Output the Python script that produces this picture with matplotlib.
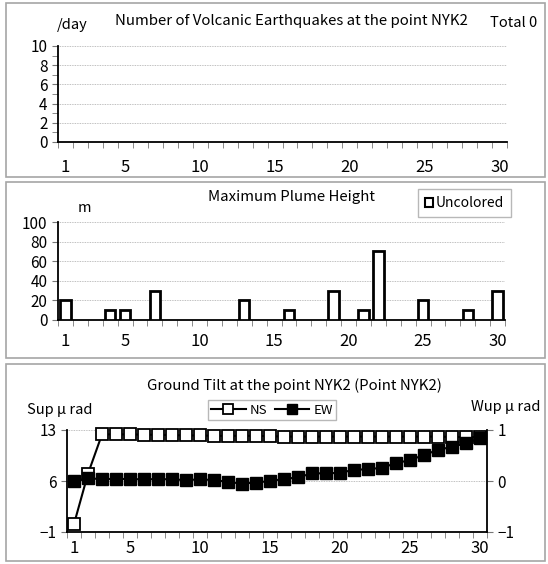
import matplotlib
matplotlib.use('Agg')
import matplotlib.pyplot as plt
from matplotlib.patches import Rectangle
from matplotlib.ticker import FixedLocator, MultipleLocator

plt.rcParams['font.family'] = ['Noto Sans CJK JP', 'DejaVu Sans']

days = list(range(1, 31))
x_labels = [1, 5, 10, 15, 20, 25, 30]

# volcanic earthquakes per day (none this month)
quakes = [0] * 30

# maximum plume height (m)
plume = [20, 0, 0, 10, 10, 0, 30, 0, 0, 0, 0, 0, 20, 0, 0,
         10, 0, 0, 30, 0, 10, 70, 0, 0, 20, 0, 0, 10, 0, 30]

# ground tilt (micro rad)
tilt_ns = [0.1, 7.0, 12.4, 12.4, 12.4, 12.35, 12.35, 12.3, 12.25, 12.25, 12.2, 12.2, 12.2, 12.2, 12.15,
           12.1, 12.1, 12.1, 12.1, 12.1, 12.1, 12.1, 12.1, 12.1, 12.1, 12.1, 12.1, 12.05, 12.05, 12.0]
tilt_ew = [0.0, 0.05, 0.04, 0.04, 0.04, 0.03, 0.04, 0.03, 0.02, 0.03, 0.02, -0.02, -0.05, -0.03, 0.0,
           0.04, 0.07, 0.15, 0.15, 0.16, 0.22, 0.23, 0.26, 0.35, 0.41, 0.51, 0.61, 0.67, 0.74, 0.84]

W, H = 548, 564
fig = plt.figure(figsize=(W / 100, H / 100), dpi=100)


def px_rect(x0, y0, x1, y1):
    return [x0 / W, 1 - y1 / H, (x1 - x0) / W, (y1 - y0) / H]


def px(x, y):
    return x / W, 1 - y / H


# panel frames
for (y0, y1) in [(3, 177), (182, 358), (364, 561)]:
    fig.patches.append(Rectangle((6 / W, 1 - y1 / H), 539 / W, (y1 - y0) / H,
                                 transform=fig.transFigure, fill=False,
                                 edgecolor='#a6a6a6', linewidth=1.2))


def style_x(ax, pad):
    ax.set_xlim(0.5, 30.5)
    ax.xaxis.set_major_locator(FixedLocator(x_labels))
    ax.xaxis.set_minor_locator(FixedLocator([d + 0.5 for d in range(0, 31)]))
    ax.tick_params(axis='x', which='major', length=0, labelsize=12, pad=pad)
    ax.tick_params(axis='x', which='minor', length=4, direction='out', color='#777777')
    ax.spines['top'].set_visible(False)
    ax.spines['bottom'].set_color('black')
    ax.spines['left'].set_color('black')
    ax.spines['bottom'].set_linewidth(1.3)
    ax.spines['left'].set_linewidth(1.3)


# --- panel 1 ---
ax1 = fig.add_axes(px_rect(58, 46, 507, 142))
ax1.bar(days, quakes, width=0.7, color='white', edgecolor='black', linewidth=0)
style_x(ax1, 12)
ax1.spines['right'].set_visible(False)
ax1.set_ylim(0, 10)
ax1.yaxis.set_major_locator(MultipleLocator(2))
ax1.yaxis.set_minor_locator(MultipleLocator(1))
ax1.tick_params(axis='y', which='both', length=4, direction='out', color='#777777', labelsize=11)
ax1.grid(axis='y', color='#aaaaaa', linewidth=0.6, linestyle=(0, (1, 1)))
ax1.set_axisbelow(True)
fig.text(*px(291, 21), 'Number of Volcanic Earthquakes at the point NYK2', ha='center', va='center', fontsize=10.8)
fig.text(*px(72, 25), '/day', ha='center', va='center', fontsize=10.5)
fig.text(*px(514, 23), 'Total 0', ha='center', va='center', fontsize=10.5)

# --- panel 2 ---
ax2 = fig.add_axes(px_rect(58, 222, 505, 320))
ax2.bar([d for d, v in zip(days, plume) if v > 0], [v for v in plume if v > 0],
        width=0.7, color='white', edgecolor='black', linewidth=2, label='Uncolored', zorder=3)
style_x(ax2, 9)
ax2.spines['right'].set_visible(False)
ax2.set_ylim(0, 100)
ax2.yaxis.set_major_locator(MultipleLocator(20))
ax2.tick_params(axis='y', which='both', length=4, direction='out', color='#777777', labelsize=11)
ax2.grid(axis='y', color='#aaaaaa', linewidth=0.6, linestyle=(0, (1, 1)))
ax2.set_axisbelow(True)
fig.text(*px(292, 197), 'Maximum Plume Height', ha='center', va='center', fontsize=10.8)
fig.text(*px(84, 208), 'm', ha='center', va='center', fontsize=10.5)
leg2 = ax2.legend(loc='center', bbox_to_anchor=((416 + 513) / 2 / W, 1 - 203 / H),
                  bbox_transform=fig.transFigure, fontsize=10, frameon=True, fancybox=False,
                  handlelength=0.6, handleheight=0.6, handletextpad=0.2, borderpad=0.5,
                  borderaxespad=0)
leg2.get_frame().set_edgecolor('#a6a6a6')
leg2.get_frame().set_linewidth(1.0)
for p in leg2.get_patches():
    p.set_linewidth(1.5)

# --- panel 3 ---
ax3 = fig.add_axes(px_rect(67, 430, 487, 532))
ax3r = ax3.twinx()
l1, = ax3.plot(days, tilt_ns, color='black', linewidth=1.5, marker='s', markersize=8.8,
               markerfacecolor='white', markeredgecolor='black', markeredgewidth=1.3, label='NS',
               zorder=3, clip_on=False)
l2, = ax3r.plot(days, tilt_ew, color='black', linewidth=1.5, marker='s', markersize=8.8,
                markerfacecolor='black', markeredgecolor='black', label='EW', zorder=3, clip_on=False)
style_x(ax3, 6)
ax3.set_ylim(-1, 13)
ax3.set_yticks([-1, 6, 13])
ax3.set_yticklabels(['\u22121', '6', '13'])
ax3.tick_params(axis='y', length=4, direction='out', color='#777777', labelsize=11)
ax3.grid(axis='y', color='#aaaaaa', linewidth=0.6, linestyle=(0, (1, 1)))
ax3.set_axisbelow(True)
ax3.spines['right'].set_visible(False)
ax3r.set_ylim(-1, 1)
ax3r.set_yticks([-1, 0, 1])
ax3r.set_yticklabels(['\u22121', '0', '1'])
ax3r.tick_params(axis='y', length=4, direction='out', color='#777777', labelsize=11)
for s in ['top', 'left', 'bottom']:
    ax3r.spines[s].set_visible(False)
ax3r.spines['right'].set_color('black')
ax3r.spines['right'].set_linewidth(1.3)
fig.text(*px(294, 386), 'Ground Tilt at the point NYK2 (Point NYK2)', ha='center', va='center', fontsize=10.8)
fig.text(*px(60, 410), 'Sup \u03bc rad', ha='center', va='center', fontsize=10.5)
fig.text(*px(506, 407), 'Wup \u03bc rad', ha='center', va='center', fontsize=10.5)
leg3 = ax3.legend(handles=[l1, l2], loc='center', ncol=2,
                  bbox_to_anchor=((199 + 345) / 2 / W, 1 - 410 / H),
                  bbox_transform=fig.transFigure, fontsize=9.5, frameon=True, fancybox=False,
                  handlelength=2.6, handletextpad=0.3, columnspacing=0.6, borderpad=0.25,
                  borderaxespad=0, markerscale=0.8)
leg3.get_frame().set_edgecolor('#a6a6a6')
leg3.get_frame().set_linewidth(1.0)

fig.savefig('out.png', dpi=100)
